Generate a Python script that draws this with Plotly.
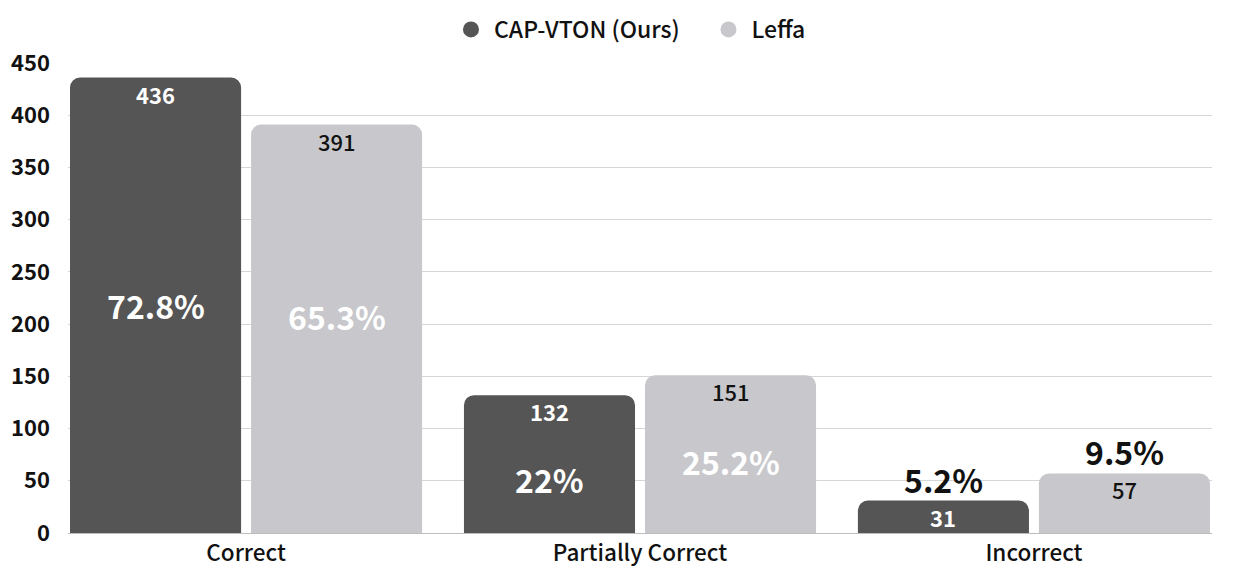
import plotly.graph_objects as go

categories = ["Correct", "Partially Correct", "Incorrect"]
series_names = ["CAP-VTON (Ours)", "Leffa"]
ours_counts = [436, 132, 31]
leffa_counts = [391, 151, 57]
ours_pct = ["72.8%", "22%", "5.2%"]
leffa_pct = ["65.3%", "25.2%", "9.5%"]
# vertical anchor (data units) of the in-bar percentage labels, None = above bar
ours_pct_y = [218, 52, None]
leffa_pct_y = [208, 69, None]
y_ticks = [0, 50, 100, 150, 200, 250, 300, 350, 400, 450]

dark = "#555555"
light = "#C8C8CC"
FONT = "Noto Sans CJK KR"

fig = go.Figure()
for name, vals, col in [(series_names[0], ours_counts, dark), (series_names[1], leffa_counts, light)]:
    fig.add_trace(go.Bar(x=categories, y=vals, name=name, marker=dict(color=col, cornerradius=10, line_width=0),
                         showlegend=False, hoverinfo="x+y"))
legend_pad = ["\u00a0" * 4, ""]
for name, col, pad in zip(series_names, [dark, light], legend_pad):
    fig.add_trace(go.Scatter(x=[None], y=[None], mode="markers", name=name + pad,
                             marker=dict(symbol="circle", size=21, color=col)))

annotations = []
shift = 90.5
for vals, pcts, pys, xs, tcol, cw in [(ours_counts, ours_pct, ours_pct_y, -shift, "white", 600),
                                       (leffa_counts, leffa_pct, leffa_pct_y, shift, "#111111", 500)]:
    for c, v, p, py in zip(categories, vals, pcts, pys):
        annotations.append(dict(x=c, y=v, xref="x", yref="y", text=str(v), showarrow=False,
                                xshift=xs, yshift=-16, font=dict(family=FONT, size=22, color=tcol, weight=cw)))
        if py is not None:
            annotations.append(dict(x=c, y=py, xref="x", yref="y", text=p, showarrow=False,
                                    xshift=xs, font=dict(family=FONT, size=32, color="white", weight=700)))
        else:
            annotations.append(dict(x=c, y=v, xref="x", yref="y", text=p, showarrow=False,
                                    xshift=xs, yshift=22, font=dict(family=FONT, size=32, color="#111111", weight=700)))

# page has an 8px body margin; figure sized/margined so the plot area lands where the reference has it
fig.update_layout(
    width=1217, height=560,
    margin=dict(l=60, r=13, t=55, b=35, autoexpand=False),
    paper_bgcolor="white", plot_bgcolor="white",
    barmode="group", bargap=0.081, bargroupgap=0.055,
    font=dict(family=FONT, color="#111111"),
    legend=dict(orientation="h", x=0.4908, xanchor="center", y=1, yanchor="top", yref="container",
                font=dict(family=FONT, size=23, color="#111111", weight=500), itemwidth=36,
                traceorder="normal"),
    annotations=annotations,
    xaxis=dict(range=[-0.452, 2.452], showgrid=False, showline=True, linecolor="#bdbdbd", linewidth=1,
               tickfont=dict(family=FONT, size=22.5, color="#111111", weight=500), ticks="", fixedrange=True,
               automargin=False),
    yaxis=dict(range=[0, 450], tickvals=y_ticks, showgrid=True, gridcolor="#d6d6d6", gridwidth=1,
               zeroline=False, tickfont=dict(family=FONT, size=22, color="#111111", weight=700),
               ticks="", ticklabelstandoff=17, fixedrange=True, automargin=False),
)

fig.write_html("out.html")
